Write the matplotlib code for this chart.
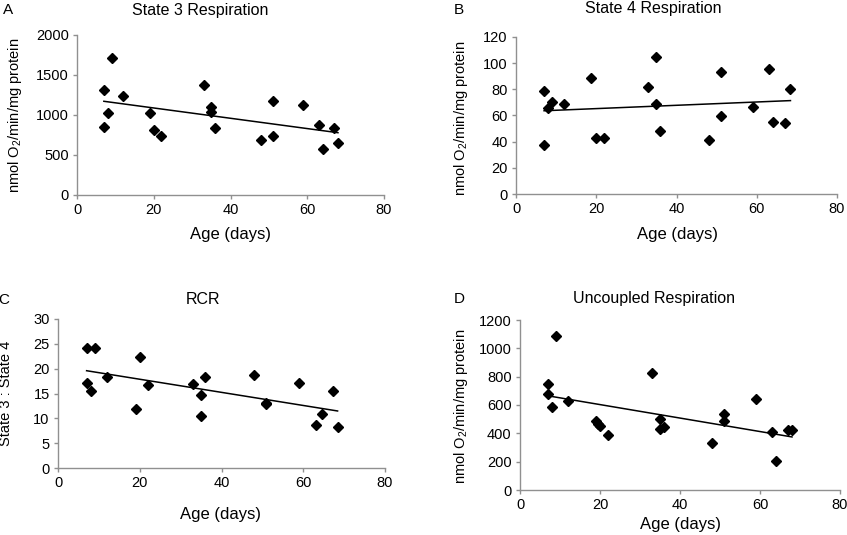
import numpy as np
import matplotlib
matplotlib.use("Agg")
import matplotlib.pyplot as plt

plt.rcParams['font.family'] = ['Liberation Sans', 'DejaVu Sans']

# ---- data ----
age_a = [7, 9, 8, 7, 12, 19, 20, 22, 33, 35, 35, 36, 48, 51, 51, 59, 63, 64, 67, 68]
state3 = [1312, 1712, 1025, 854, 1237, 1025, 808, 733, 1379, 1104, 1037, 842,
          683, 1175, 733, 1129, 871, 579, 842, 654]

age_b = [7, 8, 9, 12, 7, 18.7, 20, 22, 33, 35, 35, 36, 48, 51, 51, 59, 63, 64, 67, 68.4]
state4 = [78.7, 65.5, 70.3, 68.5, 37.3, 88.8, 43.1, 43.1, 81.5, 104.8, 68.5, 48,
          41.4, 93.4, 59.9, 66.5, 95.4, 55.3, 54.6, 80.5]

age_c = [7, 9, 7, 8, 12, 19, 20, 22, 33, 35, 35, 36, 48, 51, 51, 59, 63, 64.5, 67.3, 68.4]
rcr = [24.2, 24.2, 17.1, 15.5, 18.4, 11.9, 22.3, 16.8, 16.9, 14.6, 10.4, 18.4,
       18.8, 13.1, 12.8, 17.1, 8.7, 10.8, 15.6, 8.2]

age_d = [9, 7, 7, 8, 12, 19, 19.5, 20, 22, 33, 35, 35, 36, 48, 51, 51, 59, 63, 64, 67, 68]
uncoupled = [1084, 748, 677, 589, 625, 488, 466, 450, 391, 824, 502, 431, 443,
             329, 533, 485, 644, 407, 206, 424, 424]

W, H = 847, 535
fig = plt.figure(figsize=(W / 100, H / 100), dpi=100)


def box(l, t, r, b):
    # pixel box -> figure fraction rect
    return [l / W, 1 - b / H, (r - l) / W, (b - t) / H]


def ftext(x, y, s, **kw):
    fig.text(x / W, 1 - y / H, s, ha='center', va='center', **kw)


ylab_o2 = 'nmol O$_\\mathregular{2}$/min/mg protein'

panels = [
    # axes box, x, y, ylim, ystep, letter, letter pos, title, title pos, ylabel, ylabel pos, xlabel pos
    (box(77, 35, 384, 195), age_a, state3, 2000, 500, 'A', (8, 10), 'State 3 Respiration', (200, 10),
     ylab_o2, (15, 115), (230, 234)),
    (box(516, 37, 837, 194), age_b, state4, 120, 20, 'B', (459, 10), 'State 4 Respiration', (653, 8),
     ylab_o2, (461, 118), (677, 235)),
    (box(58, 319, 385, 468), age_c, rcr, 30, 5, 'C', (4, 300), 'RCR', (203, 299),
     'State 3 : State 4', (6, 393), (220, 515)),
    (box(520, 320, 840, 490), age_d, uncoupled, 1200, 200, 'D', (459, 299), 'Uncoupled Respiration', (654, 299),
     ylab_o2, (461, 406), (681, 525)),
]

for rect, x, y, ymax, ystep, letter, lpos, title, tpos, ylab, ypos, xpos in panels:
    ax = fig.add_axes(rect)
    x = np.array(x, dtype=float)
    y = np.array(y, dtype=float)
    ax.plot(x, y, 'D', color='black', markersize=5.5, zorder=3)

    # linear trend line over the data range
    k, c = np.polyfit(x, y, 1)
    xs = np.array([x.min(), x.max()])
    ax.plot(xs, k * xs + c, color='black', lw=1.1)

    ax.set_xlim(0, 80)
    ax.set_ylim(0, ymax)
    ax.set_xticks(np.arange(0, 81, 20))
    ax.set_yticks(np.arange(0, ymax + 1, ystep))
    for s in ['top', 'right']:
        ax.spines[s].set_visible(False)
    for s in ['left', 'bottom']:
        ax.spines[s].set_color('#909090')
        ax.spines[s].set_linewidth(1)
    ax.tick_params(direction='out', length=3, width=1, color='#909090', labelsize=10.5, pad=3)
    ax.set_facecolor('none')

    ftext(lpos[0], lpos[1], letter, fontsize=11)
    ftext(tpos[0], tpos[1], title, fontsize=11.5)
    ftext(ypos[0], ypos[1], ylab, fontsize=10.5, rotation=90)
    ftext(xpos[0], xpos[1], 'Age (days)', fontsize=12)

fig.savefig('out.png', dpi=100)
